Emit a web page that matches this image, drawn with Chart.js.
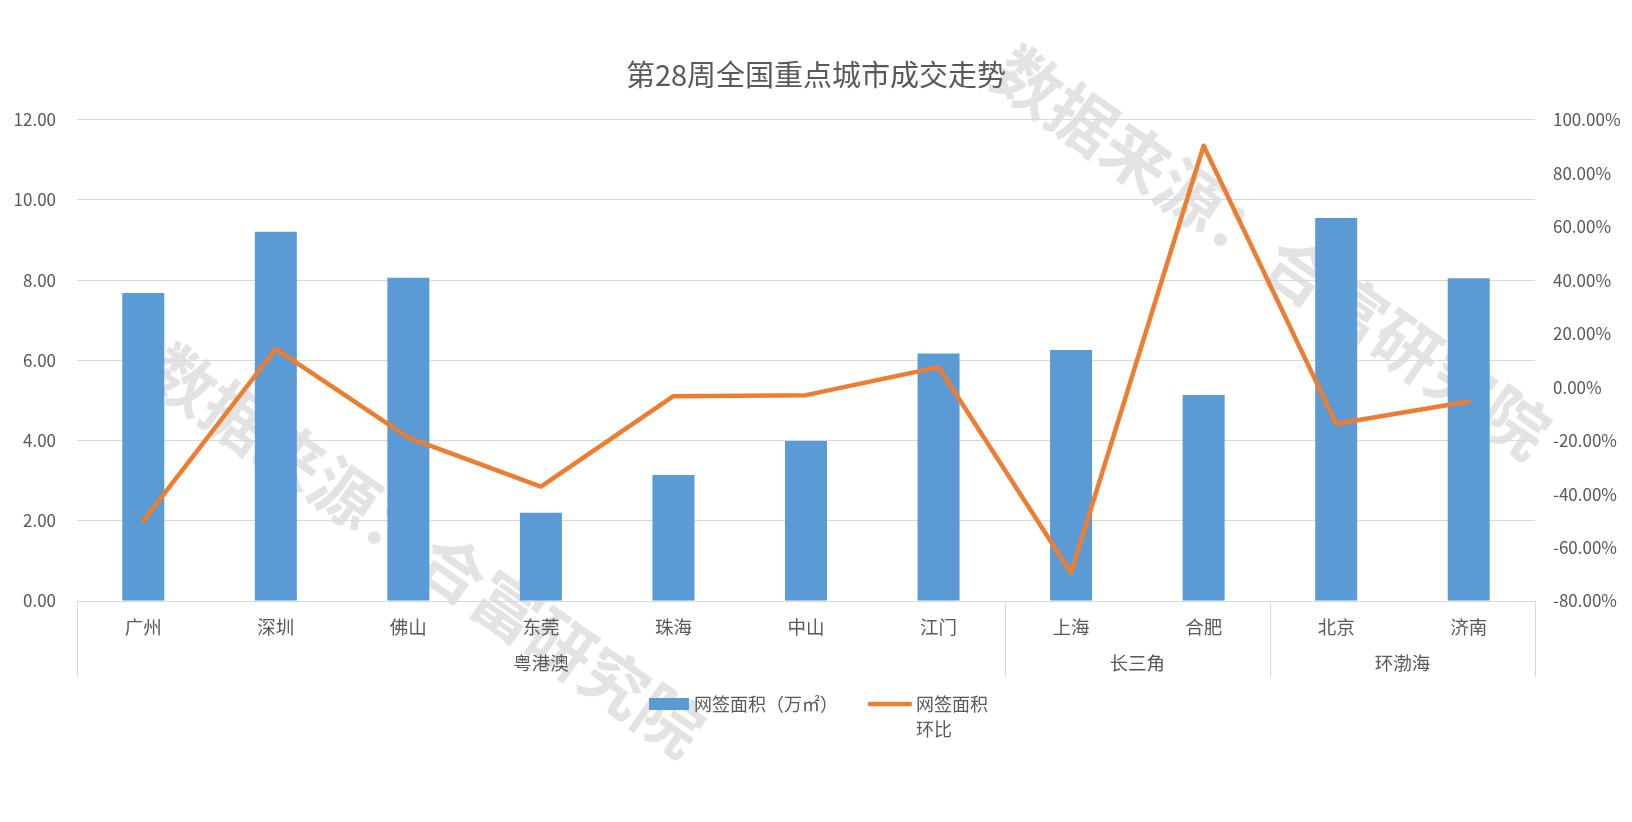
<!DOCTYPE html>
<html lang="zh-CN">
<head>
<meta charset="utf-8">
<title>第28周全国重点城市成交走势</title>
<script src="https://cdn.jsdelivr.net/npm/chart.js@4.4.1/dist/chart.umd.min.js"></script>
<style>
  html, body { margin: 0; padding: 0; background: #fff; }
  #wrap { width: 1632px; height: 822px; position: relative; }
</style>
</head>
<body>
<div id="wrap"><canvas id="trendChart"></canvas></div>
<script>
const cities = ["广州", "深圳", "佛山", "东莞", "珠海", "中山", "江门", "上海", "合肥", "北京", "济南"];
const areaValues = [7.68, 9.21, 8.06, 2.20, 3.14, 3.99, 6.17, 6.26, 5.14, 9.55, 8.05];
const ratioValues = [-50.0, 14.3, -18.9, -37.2, -3.4, -3.0, 7.5, -69.5, 90.3, -13.7, -5.4];
const groupNames = ["粤港澳", "长三角", "环渤海"];
const groupSizes = [7, 2, 2];
const legendLines = [["网签面积（万㎡）"], ["网签面积", "环比"]];

const FONT = '"Noto Sans CJK SC", "Noto Sans", sans-serif';
const TEXT_COLOR = "#595959";
const GRID_COLOR = "#d9d9d9";
const BAR_COLOR = "#5b9bd5";
const LINE_COLOR = "#ed7d31";
const WATERMARK = "数据来源：合富研究院";

// grey watermark text, drawn first so axes and data sit on top
const watermarkPlugin = {
  id: "watermark",
  beforeDraw(chart) {
    const ctx = chart.ctx;
    const spots = [[426, 550], [1272, 252]];
    ctx.save();
    ctx.fillStyle = "#e3e3e3";
    ctx.font = `bold 66px ${FONT}`;
    ctx.textAlign = "center";
    ctx.textBaseline = "middle";
    spots.forEach(([cx, cy]) => {
      ctx.save();
      ctx.translate(cx, cy);
      ctx.rotate(35 * Math.PI / 180);
      ctx.fillText(WATERMARK, 0, 0);
      ctx.restore();
    });
    ctx.restore();
  }
};

// second row of the category axis plus the legend
const groupAxisPlugin = {
  id: "groupAxis",
  afterDraw(chart) {
    const ctx = chart.ctx;
    const xScale = chart.scales.x;
    const area = chart.chartArea;

    ctx.save();
    ctx.strokeStyle = GRID_COLOR;
    ctx.lineWidth = 1;
    ctx.fillStyle = TEXT_COLOR;
    ctx.font = `18.5px ${FONT}`;
    ctx.textAlign = "center";
    ctx.textBaseline = "middle";

    let start = 0;
    const edges = [xScale.getPixelForValue(-0.5)];
    groupNames.forEach((name, i) => {
      const end = start + groupSizes[i];
      const left = xScale.getPixelForValue(start - 0.5);
      const right = xScale.getPixelForValue(end - 0.5);
      edges.push(right);
      ctx.fillText(name, (left + right) / 2, area.bottom + 62);
      start = end;
    });

    edges.forEach(px => {
      const x = Math.round(px) + 0.5;
      ctx.beginPath();
      ctx.moveTo(x, area.bottom);
      ctx.lineTo(x, area.bottom + 76);
      ctx.stroke();
    });

    // legend
    const legendY = 704;
    ctx.textAlign = "left";
    ctx.font = `18px ${FONT}`;
    const barSet = chart.data.datasets[0];
    const lineSet = chart.data.datasets[1];

    ctx.fillStyle = barSet.backgroundColor;
    ctx.fillRect(649, legendY - 6, 40, 12);
    ctx.fillStyle = TEXT_COLOR;
    legendLines[0].forEach((text, i) => ctx.fillText(text, 694, legendY + i * 25));

    ctx.strokeStyle = lineSet.borderColor;
    ctx.lineWidth = 4.5;
    ctx.lineCap = "round";
    ctx.beginPath();
    ctx.moveTo(870, legendY);
    ctx.lineTo(910, legendY);
    ctx.stroke();
    legendLines[1].forEach((text, i) => ctx.fillText(text, 916, legendY + i * 25));

    ctx.restore();
  }
};

function initTrendChart() {
  const canvas = document.getElementById("trendChart");

  return new Chart(canvas, {
    type: "bar",
    data: {
      labels: cities,
      datasets: [
        {
          type: "bar",
          label: legendLines[0].join(""),
          data: areaValues,
          backgroundColor: BAR_COLOR,
          yAxisID: "y",
          categoryPercentage: 1,
          barPercentage: 0.317,
          order: 2
        },
        {
          type: "line",
          label: legendLines[1].join(""),
          data: ratioValues,
          borderColor: LINE_COLOR,
          backgroundColor: LINE_COLOR,
          borderWidth: 4.5,
          borderJoinStyle: "round",
          borderCapStyle: "round",
          pointRadius: 0,
          tension: 0,
          yAxisID: "y1",
          order: 1
        }
      ]
    },
    options: {
      responsive: true,
      maintainAspectRatio: false,
      animation: false,
      layout: { padding: 0 },
      plugins: {
        legend: { display: false },
        tooltip: { enabled: false },
        title: {
          display: true,
          text: "第28周全国重点城市成交走势",
          color: TEXT_COLOR,
          font: { family: FONT, size: 29, weight: "normal" },
          padding: { top: 58, bottom: 27 }
        }
      },
      scales: {
        x: {
          grid: { display: false, drawTicks: false },
          border: { display: true, color: GRID_COLOR, width: 1 },
          ticks: {
            color: TEXT_COLOR,
            font: { family: FONT, size: 18.5 },
            padding: 15,
            maxRotation: 0,
            autoSkip: false
          },
          afterFit(scale) {
            scale.height = 221;
          }
        },
        y: {
          position: "left",
          min: 0,
          max: 12,
          grid: { color: GRID_COLOR, drawTicks: false },
          border: { display: false },
          ticks: {
            stepSize: 2,
            color: TEXT_COLOR,
            font: { family: FONT, size: 17 },
            padding: 21,
            callback: value => Number(value).toFixed(2)
          },
          afterFit(scale) {
            scale.width = 77;
          }
        },
        y1: {
          position: "right",
          min: -80,
          max: 100,
          grid: { display: false, drawTicks: false },
          border: { display: false },
          ticks: {
            stepSize: 20,
            color: TEXT_COLOR,
            font: { family: FONT, size: 17 },
            padding: 18,
            callback: value => `${Number(value).toFixed(2)}%`
          },
          afterFit(scale) {
            scale.width = 97;
          }
        }
      }
    },
    plugins: [watermarkPlugin, groupAxisPlugin]
  });
}

initTrendChart();
</script>
</body>
</html>
